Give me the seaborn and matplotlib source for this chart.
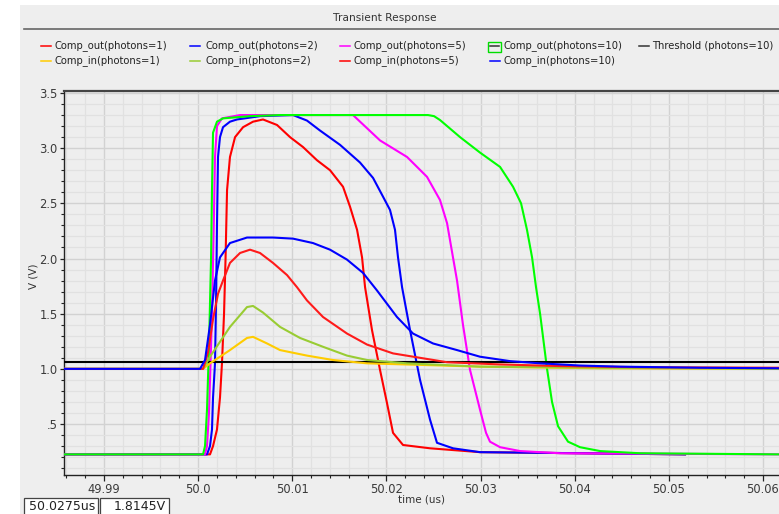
import numpy as np
import pandas as pd
import matplotlib
matplotlib.use("Agg")
import matplotlib.pyplot as plt
from matplotlib.lines import Line2D
from matplotlib.patches import Rectangle
from matplotlib.ticker import FixedLocator, FixedFormatter, MultipleLocator
import seaborn as sns

# ---------------- data (time in us, voltage in V) ----------------
t_out1 = [49.98575, 50.00126, 50.00158, 50.00200, 50.00232, 50.00253, 50.00275, 50.00291, 50.00307,
          50.00338, 50.00392, 50.00477, 50.00583, 50.00689, 50.00838, 50.00976, 50.01114, 50.01263,
          50.01401, 50.01539, 50.01613, 50.01688, 50.01741, 50.01773, 50.01847, 50.01932, 50.02006,
          50.02070, 50.02176, 50.02463, 50.02994, 50.05172]
v_out1 = [0.225, 0.225, 0.30, 0.45, 0.74, 1.05, 1.50, 2.00, 2.62, 2.92, 3.10, 3.19, 3.24, 3.26, 3.21,
          3.10, 3.01, 2.89, 2.80, 2.65, 2.47, 2.26, 2.01, 1.74, 1.35, 0.99, 0.69, 0.42, 0.31, 0.28,
          0.245, 0.225]

t_out2 = [49.98575, 50.00094, 50.00126, 50.00147, 50.00158, 50.00179, 50.00190, 50.00200, 50.00211,
          50.00232, 50.00264, 50.00338, 50.00413, 50.00657, 50.01008, 50.01156, 50.01294, 50.01507,
          50.01719, 50.01858, 50.01964, 50.02038, 50.02091, 50.02123, 50.02166, 50.02251, 50.02357,
          50.02463, 50.02537, 50.02707, 50.02994, 50.05172]
v_out2 = [0.225, 0.225, 0.30, 0.45, 0.74, 1.05, 1.60, 2.30, 2.92, 3.10, 3.19, 3.24, 3.26, 3.29, 3.30,
          3.25, 3.16, 3.03, 2.87, 2.73, 2.56, 2.44, 2.26, 2.01, 1.74, 1.35, 0.90, 0.54, 0.33, 0.28,
          0.245, 0.225]

t_out5 = [49.98575, 50.00073, 50.00094, 50.00115, 50.00126, 50.00147, 50.00168, 50.00179, 50.00200,
          50.00253, 50.00445, 50.01645, 50.01932, 50.02219, 50.02431, 50.02569, 50.02644, 50.02707,
          50.02750, 50.02813, 50.02888, 50.02994, 50.03058, 50.03100, 50.03207, 50.03419, 50.03844,
          50.06170]
v_out5 = [0.225, 0.225, 0.30, 0.60, 0.90, 1.50, 2.40, 2.92, 3.20, 3.27, 3.30, 3.30, 3.07, 2.92, 2.74,
          2.53, 2.32, 2.01, 1.80, 1.40, 0.99, 0.63, 0.42, 0.34, 0.29, 0.255, 0.235, 0.225]

t_out10 = [49.98575, 50.00052, 50.00073, 50.00094, 50.00115, 50.00137, 50.00147, 50.00158, 50.00200,
           50.00264, 50.00551, 50.00870, 50.02442, 50.02506, 50.02569, 50.02782, 50.02994, 50.03207,
           50.03345, 50.03430, 50.03493, 50.03547, 50.03589, 50.03632, 50.03706, 50.03759, 50.03823,
           50.03929, 50.04056, 50.04269, 50.04694, 50.06170]
v_out10 = [0.225, 0.225, 0.30, 0.63, 1.20, 2.00, 2.62, 3.14, 3.24, 3.27, 3.29, 3.30, 3.30, 3.29, 3.255,
           3.10, 2.96, 2.83, 2.65, 2.50, 2.26, 2.01, 1.74, 1.50, 1.00, 0.70, 0.48, 0.34, 0.29, 0.255,
           0.235, 0.225]

t_thr = [49.98575, 50.06170]
v_thr = [1.06, 1.06]

t_in1 = [49.98575, 50.00052, 50.00126, 50.00338, 50.00519, 50.00583, 50.00732, 50.00870, 50.01156,
         50.01433, 50.01794, 50.02994, 50.04269, 50.06170]
v_in1 = [1.0, 1.0, 1.05, 1.17, 1.28, 1.29, 1.23, 1.17, 1.12, 1.08, 1.05, 1.02, 1.005, 1.0]

t_in2 = [49.98575, 50.00052, 50.00126, 50.00338, 50.00519, 50.00583, 50.00689, 50.00870, 50.01082,
         50.01326, 50.01581, 50.01794, 50.02219, 50.02994, 50.04269, 50.06170]
v_in2 = [1.0, 1.0, 1.11, 1.38, 1.56, 1.57, 1.51, 1.38, 1.28, 1.20, 1.12, 1.08, 1.05, 1.02, 1.01, 1.0]

t_in5 = [49.98575, 50.00052, 50.00105, 50.00158, 50.00211, 50.00264, 50.00338, 50.00445, 50.00551,
         50.00657, 50.00795, 50.00944, 50.01050, 50.01156, 50.01326, 50.01581, 50.01794, 50.02070,
         50.02357, 50.02644, 50.03207, 50.03844, 50.04694, 50.06170]
v_in5 = [1.0, 1.0, 1.15, 1.45, 1.68, 1.80, 1.96, 2.05, 2.08, 2.05, 1.96, 1.85, 1.74, 1.62, 1.47, 1.32,
         1.22, 1.14, 1.10, 1.06, 1.04, 1.025, 1.015, 1.01]

t_in10 = [49.98575, 50.00020, 50.00073, 50.00126, 50.00179, 50.00232, 50.00338, 50.00519, 50.00795,
          50.01008, 50.01220, 50.01401, 50.01581, 50.01751, 50.01900, 50.02112, 50.02282, 50.02495,
          50.02750, 50.02994, 50.03313, 50.03632, 50.04056, 50.04481, 50.05332, 50.06170]
v_in10 = [1.0, 1.0, 1.08, 1.40, 1.80, 2.01, 2.14, 2.19, 2.19, 2.18, 2.14, 2.08, 1.99, 1.87, 1.71, 1.47,
          1.32, 1.23, 1.17, 1.11, 1.07, 1.05, 1.03, 1.02, 1.01, 1.005]

series_names = ["Comp_out(photons=1)", "Comp_out(photons=2)", "Comp_out(photons=5)",
                "Comp_out(photons=10)", "Threshold (photons=10)",
                "Comp_in(photons=1)", "Comp_in(photons=2)", "Comp_in(photons=5)",
                "Comp_in(photons=10)"]
series_t = [t_out1, t_out2, t_out5, t_out10, t_thr, t_in1, t_in2, t_in5, t_in10]
series_v = [v_out1, v_out2, v_out5, v_out10, v_thr, v_in1, v_in2, v_in5, v_in10]
series_colors = ["#ff0000", "#0000ff", "#ff00ff", "#00ff00", "#000000",
                 "#ffcc00", "#99cc33", "#ff1a1a", "#0000ff"]

x_ticks = [49.99, 50.00, 50.01, 50.02, 50.03, 50.04, 50.05, 50.06]
x_tick_labels = ["49.99", "50.0", "50.01", "50.02", "50.03", "50.04", "50.05", "50.06"]
y_ticks = [0.5, 1.0, 1.5, 2.0, 2.5, 3.0, 3.5]
y_tick_labels = [".5", "1.0", "1.5", "2.0", "2.5", "3.0", "3.5"]

title_text = "Transient Response"
x_label = "time (us)"
y_label = "V (V)"
readout = ["50.0275us", "1.8145V"]

# ---------------- figure ----------------
W, H = 779, 514
BG = "#eeeeee"
fig = plt.figure(figsize=(W / 100, H / 100), dpi=100, facecolor="white")
plt.rcParams["font.family"] = ["DejaVu Sans"]


def fx(px):
    return px / W


def fy(py):
    return 1 - py / H


# grey panel (white strip at left and top from the screenshot)
fig.patches.append(Rectangle((fx(20), 0), 1 - fx(20), fy(5), transform=fig.transFigure,
                             facecolor=BG, edgecolor="none", zorder=-10))

ax_left, ax_right, ax_top, ax_bot = 64, 779, 91, 475
ax = fig.add_axes([fx(ax_left), fy(ax_bot), fx(ax_right - ax_left), (ax_bot - ax_top) / H])
ax.set_zorder(1)
ax.set_facecolor(BG)

frames = []
for name, t, v in zip(series_names, series_t, series_v):
    frames.append(pd.DataFrame({"t": t, "v": v, "series": name}))
df = pd.concat(frames, ignore_index=True)

palette = dict(zip(series_names, series_colors))
for name in series_names:
    sub = df[df["series"] == name]
    sns.lineplot(data=sub, x="t", y="v", color=palette[name], sort=False, estimator=None,
                 lw=1.5, ax=ax, legend=False, zorder=3)

ax.set_xlim(49.98575, 50.0617)
ax.set_ylim(0.038, 3.518)

ax.xaxis.set_major_locator(FixedLocator(x_ticks))
ax.xaxis.set_major_formatter(FixedFormatter(x_tick_labels))
ax.xaxis.set_minor_locator(MultipleLocator(0.002))
ax.yaxis.set_major_locator(FixedLocator(y_ticks))
ax.yaxis.set_major_formatter(FixedFormatter(y_tick_labels))
ax.yaxis.set_minor_locator(MultipleLocator(0.1))

ax.grid(which="major", color="#d2d2d2", lw=1.0, zorder=0)
ax.grid(which="minor", color="#e1e1e1", lw=0.9, zorder=0)
ax.set_axisbelow(True)

ax.tick_params(axis="both", which="major", direction="out", length=4, width=0.9,
               color="#222222", labelsize=8.3, labelcolor="#3a3a3a", pad=2)
ax.tick_params(axis="both", which="minor", direction="out", length=2.2, width=0.8,
               color="#222222")
ax.tick_params(axis="y", which="major", length=3, pad=1.5)

for s in ["left", "bottom"]:
    ax.spines[s].set_color("#222222")
    ax.spines[s].set_linewidth(1.0)
ax.spines["top"].set_color("#444444")
ax.spines["top"].set_linewidth(1.6)
ax.spines["right"].set_visible(False)
ax.set_xlabel("")
ax.set_ylabel("")

fig.text(fx(421), fy(499), x_label, ha="center", va="center", fontsize=7.5, color="#333333")
fig.text(fx(33), fy(276), y_label, ha="center", va="center", rotation=90, fontsize=7.5,
         color="#333333")

# title bar
fig.text(fx(385), fy(18), title_text, ha="center", va="center", fontsize=7.7, color="#333333")
fig.lines.append(Line2D([fx(24), 1], [fy(29), fy(29)], transform=fig.transFigure,
                        color="#666666", lw=1.2))

# legend
col_line_x = [41, 190, 340, 490, 639]
col_text_x = [55, 205, 354, 503, 652]
row_y = [46, 61]
legend_colors = ["#ff0000", "#0000ff", "#ff00ff", "#333333", "#333333",
                 "#ffcc00", "#99cc33", "#ff0000", "#0000ff"]
for i, name in enumerate(series_names):
    r = 0 if i < 5 else 1
    c = i if i < 5 else i - 5
    y = row_y[r]
    x0 = col_line_x[c]
    if i == 3:
        fig.patches.append(Rectangle((fx(488), fy(52)), fx(13), (10) / H,
                                     transform=fig.transFigure, facecolor="none",
                                     edgecolor="#00dd00", lw=1.0))
        fig.lines.append(Line2D([fx(490), fx(499)], [fy(y), fy(y)], transform=fig.transFigure,
                                color=legend_colors[i], lw=1.1))
    else:
        fig.lines.append(Line2D([fx(x0), fx(x0 + 10)], [fy(y), fy(y)], transform=fig.transFigure,
                                color=legend_colors[i], lw=1.1))
    fig.text(fx(col_text_x[c]), fy(y), name, ha="left", va="center", fontsize=7.2,
             color="#222222")

# readout boxes at bottom
boxes = [(24, 98), (100, 169)]
for (bx0, bx1), txt in zip(boxes, readout):
    fig.patches.append(Rectangle((fx(bx0), fy(516)), fx(bx1 - bx0), 18 / H,
                                 transform=fig.transFigure, facecolor="white",
                                 edgecolor="#444444", lw=0.9))
    fig.text(fx(bx1 - 3), fy(507), txt, ha="right", va="center", fontsize=9, color="#222222")

fig.savefig("out.png", dpi=100, facecolor="white")
